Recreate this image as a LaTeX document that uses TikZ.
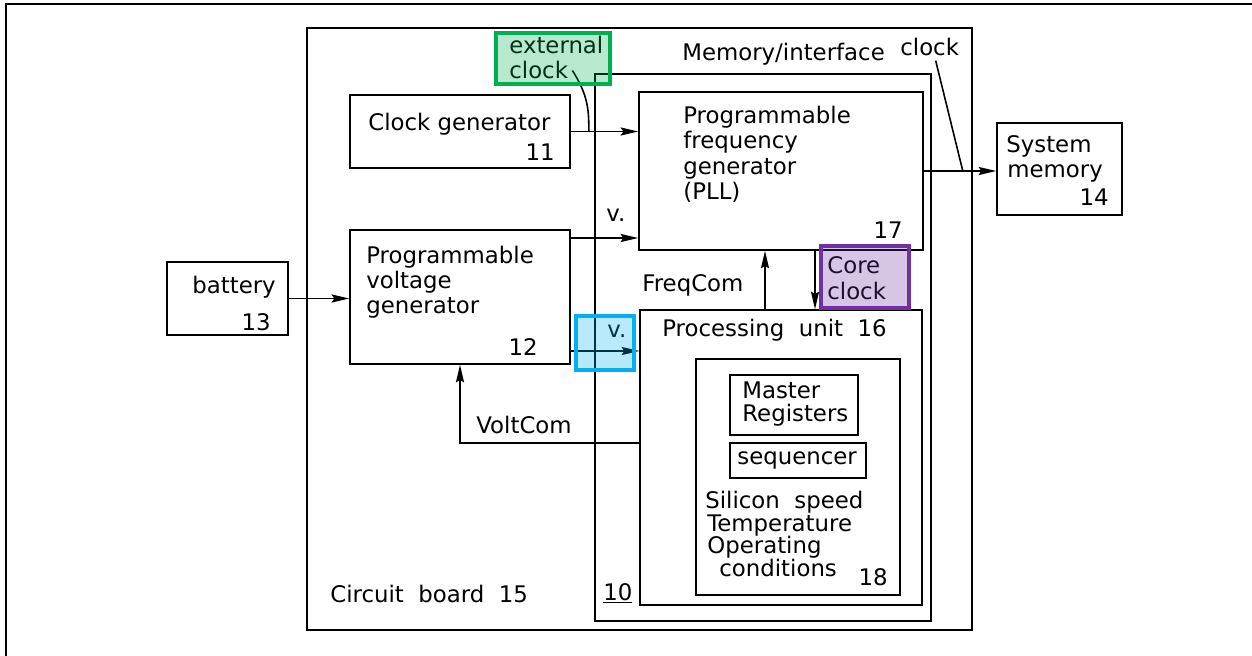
\documentclass[tikz,border=0pt]{standalone}
\usepackage{fontspec}
\setmainfont{DejaVu Sans}
\usetikzlibrary{arrows.meta,positioning,fit,calc}
\definecolor{hlgreen}{HTML}{00B050}
\definecolor{hlpurple}{HTML}{7030A0}
\definecolor{hlblue}{HTML}{00B0F0}

\begin{document}
\begin{tikzpicture}[x=0.02cm,y=-0.02cm,
  box/.style={draw,line width=0.9pt,inner sep=0pt},
  txt/.style={inner sep=0pt,anchor=base west,font=\fontsize{13}{15}\selectfont},
  num/.style={txt,anchor=base east},
  arr/.style={line width=0.9pt,-{Stealth[length=10pt,width=4.6pt,inset=1.5pt]}},
  wire/.style={line width=0.9pt},
  hl/.style={draw=#1,fill=#1,fill opacity=0.28,draw opacity=1,line width=2.4pt,inner sep=0pt}]
  \useasboundingbox (0,0) rectangle (1252,656);
  \draw[line width=1.4pt] (6,656) -- (6,4) -- (1252,4);

  % blocks
  \node[box,fit={(307,28)(972,630)}] (board) {};
  \node[box,fit={(595,74)(931,621)}] (ten) {};
  \node[box,fit={(350,95)(570,168)}] (clkgen) {};
  \node[box,fit={(350,230)(570,364)}] (pvg) {};
  \node[box,fit={(639,92)(923,250)}] (pll) {};
  \node[box,fit={(640,310)(922,605)}] (proc) {};
  \node[box,fit={(696,359)(900,595)}] (sense) {};
  \node[box,fit={(730,375)(858,435)}] (mreg) {};
  \node[box,fit={(730,443)(866,478)}] (seq) {};
  \node[box,fit={(167,262)(288,335)}] (batt) {};
  \node[box,fit={(997,123)(1122,215)}] (sysmem) {};

  % texts
  \node[txt] (extA) at (509,53) {external};
  \node[txt] (extB) at (509,78) {clock};
  \node[txt] (memif) at (682,60) {Memory/interface};
  \node[txt] (memclk) at (900,55) {clock};
  \node[txt] (clkA) at (368,130) {Clock generator};
  \node[num] (clkN) at (555,160) {11};
  \node[txt] (pllA) at (683,123) {Programmable};
  \node[txt] (pllB) at (683,148) {frequency};
  \node[txt] (pllC) at (683,174) {generator};
  \node[txt] (pllD) at (683,199) {(PLL)};
  \node[num] (pllN) at (903,238) {17};
  \node[txt] (vA) at (606,221) {v.};
  \node[txt] (pvgA) at (366,263) {Programmable};
  \node[txt] (pvgB) at (366,288) {voltage};
  \node[txt] (pvgC) at (366,313) {generator};
  \node[num] (pvgN) at (538,355) {12};
  \node[txt] (battA) at (192,293) {battery};
  \node[num] (battN) at (271,330) {13};
  \node[txt] (smA) at (1006,152) {System};
  \node[txt] (smB) at (1007,177) {memory};
  \node[num] (smN) at (1109,205) {14};
  \node[txt] (fqc) at (642,291) {FreqCom};
  \node[txt] (ccA) at (827,273) {Core};
  \node[txt] (ccB) at (827,299) {clock};
  \node[txt] (vB) at (607,337) {v.};
  \node[txt] (procA) at (662,336) {Processing~~unit~~16};
  \node[txt] (mrA) at (742,398) {Master};
  \node[txt] (mrB) at (742,421) {Registers};
  \node[txt] (seqA) at (737,464) {sequencer};
  \node[txt] (sA) at (705,508) {Silicon~~speed};
  \node[txt] (sB) at (707,531) {Temperature};
  \node[txt] (sC) at (707,553) {Operating};
  \node[txt] (sD) at (719,576) {conditions};
  \node[num] (sN) at (888,585) {18};
  \node[txt] (vcm) at (476,433) {VoltCom};
  \node[txt] (brd) at (330,602) {Circuit~~board~~15};
  \node[txt] (tenN) at (603,600) {\underline{10}};

  % connectors
  \coordinate (vone) at (0,238);
  \coordinate (vtwo) at (0,351);
  \coordinate (vcom) at (0,443);
  \coordinate (fq) at (765,0);
  \coordinate (cc) at (815,0);
  \draw[arr] (batt.east) -- (batt.east -| pvg.west);
  \draw[arr] (clkgen.east) -- (clkgen.east -| pll.west);
  \draw[arr] (pvg.east |- vone) -- (pll.west |- vone);
  \draw[arr] (pvg.east |- vtwo) -- (proc.west |- vtwo);
  \draw[arr] (proc.north -| fq) -- (pll.south -| fq);
  \draw[arr] (pll.south -| cc) -- (proc.north -| cc);
  \draw[arr] (proc.west |- vcom) -| (pvg.south);
  \draw[arr] (pll.east) -- (pll.east -| sysmem.west);
  \draw[wire] ($(extB.east)+(4,1)$) .. controls (588,95) and (589,110) .. ($(clkgen.east)+(18,0)$);
  \draw[wire] ($(memclk.south)+(6,5)$) -- ($(pll.east)+(39,0)$);

  % highlights
  \node[hl=hlgreen,fit={(496,33)(610,84)}] (hlext) {};
  \node[hl=hlpurple,fit={(821,246)(909,308)}] (hlcore) {};
  \node[hl=hlblue,fit={(576,316)(634,370)}] (hlv) {};
\end{tikzpicture}
\end{document}
